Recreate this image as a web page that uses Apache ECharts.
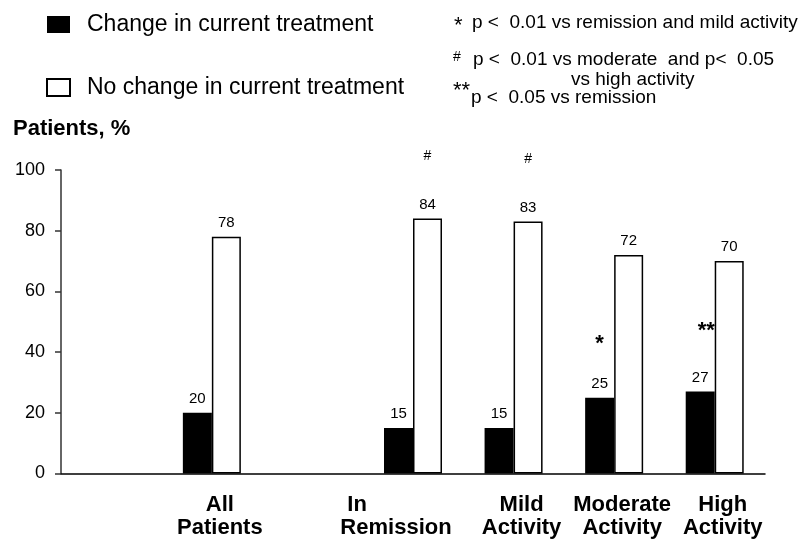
<!DOCTYPE html>
<html><head><meta charset="utf-8">
<script src="https://cdn.jsdelivr.net/npm/echarts@6/dist/echarts.min.js"></script>
<style>html,body{margin:0;padding:0;background:#fff}#c{width:804px;height:539px}</style>
</head><body><div id="c"></div>
<script>
const categories = ['', 'All\nPatients', '', 'In\nRemission', 'Mild\nActivity', 'Moderate\nActivity', 'High\nActivity'];
const changeValues = [null, 20, null, 15, 15, 25, 27];
const noChangeValues = [null, 78, null, 84, 83, 72, 70];
const changeNotes = ['', '', '', '', '', '*', '**'];
const noChangeNotes = ['', '', '', '#', '#', '', ''];
const seriesNames = ['Change in current treatment', 'No change in current treatment'];
const yAxisTitle = 'Patients, %';
const footnoteMarks = ['*', '#', '', '**'];
const footnoteTexts = ['p <  0.01 vs remission and mild activity', 'p <  0.01 vs moderate  and p<  0.05', 'vs high activity', 'p <  0.05 vs remission'];

const FF = '"Liberation Sans", Arial, Helvetica, sans-serif';
const chart = echarts.init(document.getElementById('c'), null, {renderer: 'canvas'});

function barLabel(notes) {
  return {
    show: true, position: 'top', distance: 5,
    formatter: p => {
      const v = '{v|' + p.value + '}';
      const n = notes[p.dataIndex];
      if (!n) return v;
      const st = n.indexOf('#') >= 0 ? 'h' : (n.length > 1 ? 'd' : 's');
      return '{' + st + '|' + n + '}\n' + v;
    },
    rich: {
      v: {fontSize: 15, lineHeight: 18, fontFamily: FF, color: '#000'},
      h: {fontSize: 14, lineHeight: 78, fontFamily: FF, color: '#000'},
      s: {fontSize: 22, fontWeight: 'bold', lineHeight: 62, fontFamily: FF, color: '#000'},
      d: {fontSize: 22, fontWeight: 'bold', lineHeight: 76, fontFamily: FF, color: '#000', padding: [0, 0, 0, 12]}
    }
  };
}

const catFont = {fontSize: 22, fontWeight: 'bold', fontFamily: FF, color: '#000', lineHeight: 23};
const notePos = [
  {mx: 454, my: 26, tx: 472, ty: 23},
  {mx: 453, my: 57, tx: 473, ty: 60},
  {mx: 0, my: 0, tx: 571, ty: 80},
  {mx: 453, my: 91, tx: 471, ty: 98}
];
const graphics = [];
footnoteTexts.forEach((t, i) => {
  const p = notePos[i];
  if (footnoteMarks[i]) {
    const isHash = footnoteMarks[i] === '#';
    graphics.push({type: 'text', x: p.mx, y: p.my, style: {text: footnoteMarks[i], font: (isHash ? '14px ' : '22px ') + FF, fill: '#000', verticalAlign: 'middle', textVerticalAlign: 'middle'}});
  }
  graphics.push({type: 'text', x: p.tx, y: p.ty, style: {text: t, font: '19px ' + FF, fill: '#000', verticalAlign: 'middle', textVerticalAlign: 'middle'}});
});

chart.setOption({
  animation: false,
  backgroundColor: '#fff',
  title: {text: yAxisTitle, left: 13, top: 118, padding: 0, textStyle: {fontSize: 22, fontWeight: 'bold', fontFamily: FF, color: '#000'}},
  legend: {
    orient: 'vertical', left: 46, top: 13, padding: 0, itemWidth: 23, itemHeight: 17, itemGap: 40,
    selectedMode: false, icon: 'rect', data: seriesNames,
    textStyle: {fontSize: 23, fontFamily: FF, color: '#000', padding: [0, 0, 0, 12], lineHeight: 22}
  },
  graphic: graphics,
  grid: {left: 61, right: 39, top: 170, bottom: 65, containLabel: false},
  xAxis: {
    type: 'category', data: categories,
    axisTick: {show: false},
    axisLine: {lineStyle: {color: '#000', width: 1.5}},
    axisLabel: {
      interval: 0, margin: 20,
      formatter: val => {
        if (!val) return '';
        const lines = val.split('\n');
        if (val.indexOf('In\n') === 0) return '{ri|' + lines[0] + '}\n{rr|' + lines[1] + '}';
        return lines.map(l => '{c|' + l + '}').join('\n');
      },
      rich: {
        c: Object.assign({padding: [0, 0, 0, 16]}, catFont),
        ri: Object.assign({width: 138, align: 'left', padding: [0, 0, 0, 7]}, catFont),
        rr: Object.assign({padding: [0, 34, 0, 0]}, catFont)
      }
    }
  },
  yAxis: {
    type: 'value', min: 0, max: 100, interval: 20,
    axisLine: {show: true, lineStyle: {color: '#333', width: 1.5}},
    axisTick: {show: true, length: 6, lineStyle: {color: '#333', width: 1.5}},
    splitLine: {show: false},
    axisLabel: {fontSize: 18, fontFamily: FF, color: '#000', margin: 16}
  },
  series: [
    {name: seriesNames[0], type: 'bar', data: changeValues, barWidth: 29, barGap: '0%',
     itemStyle: {color: '#000'}, label: barLabel(changeNotes)},
    {name: seriesNames[1], type: 'bar', data: noChangeValues, barWidth: 29, barGap: '0%',
     itemStyle: {color: '#fff', borderColor: '#000', borderWidth: 1.5}, label: barLabel(noChangeNotes)}
  ]
});
</script></body></html>
